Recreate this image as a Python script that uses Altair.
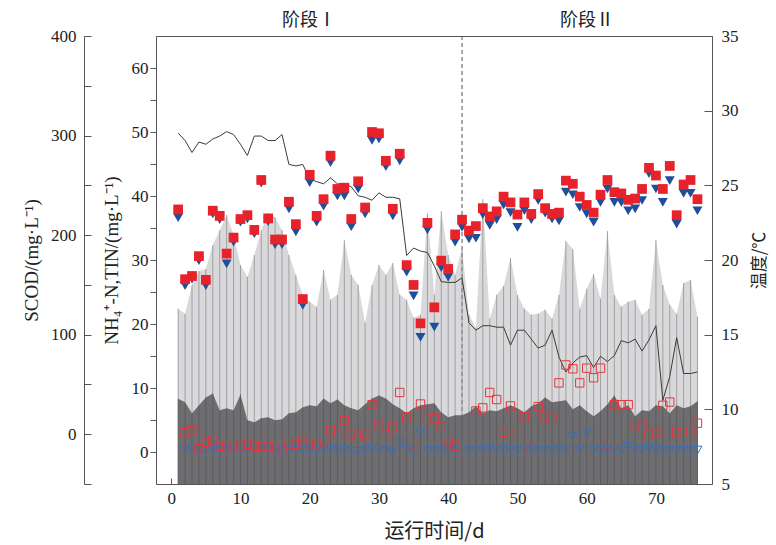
import altair as alt
import pandas as pd

# ---------------- data ----------------
days = list(range(1, 77))

tin_in = [37.9, 27.0, 27.5, 30.6, 26.9, 37.7, 36.9, 31.0, 33.5, 36.4,
          37.0, 34.7, 42.5, 36.5, 33.2, 33.2, 39.1, 35.6, 23.9, 43.3,
          36.9, 39.5, 46.3, 41.1, 41.3, 36.4, 42.3, 38.2, 50.0, 49.8,
          45.5, 38.0, 46.6, 29.2, 26.1, 20.1, 35.8, 22.6, 29.9, 28.6,
          34.0, 36.3, 34.6, 35.3, 38.1, 36.8, 37.6, 39.9, 39.0, 37.1,
          39.0, 37.2, 40.3, 38.1, 37.2, 37.4, 42.4, 41.9, 39.9, 38.6,
          37.4, 40.2, 42.5, 40.6, 40.4, 39.4, 39.6, 41.1, 44.4, 43.2,
          41.1, 44.7, 37.0, 41.8, 42.5, 39.5]

nh4_in = [36.6, 26.0, 27.0, 29.9, 26.0, 37.2, 36.3, 29.4, 32.8, 35.9,
          36.4, 34.1, 42.0, 36.0, 32.4, 32.4, 38.0, 34.4, 22.9, 42.1,
          35.9, 38.4, 45.2, 40.0, 40.0, 35.2, 41.1, 37.2, 48.7, 48.9,
          44.6, 36.9, 45.5, 28.1, 24.4, 17.9, 34.7, 19.5, 28.8, 27.3,
          32.8, 35.1, 33.3, 33.4, 37.1, 35.4, 36.3, 38.6, 37.4, 35.1,
          37.7, 36.3, 39.3, 37.3, 36.4, 36.1, 40.6, 40.2, 38.2, 37.2,
          35.9, 39.0, 41.1, 39.0, 39.0, 37.7, 38.0, 39.3, 43.5, 41.1,
          39.0, 42.4, 35.6, 40.4, 40.4, 37.7]

tin_out = [None, 3.0, 3.3, 0.5, 1.5, 1.9, 0.9, 0.7, 1.0, 1.0,
           1.2, 0.9, 0.9, 0.8, 0.4, 0.4, 1.3, 1.2, 1.7, 1.3,
           1.3, 1.6, 3.3, 2.6, 4.9, 2.8, 2.3, 2.8, 7.4, 4.2,
           2.6, 3.9, 9.3, 5.5, 1.3, 7.5, 5.1, 5.2, 3.9, 1.6,
           0.9, None, None, 6.4, 6.9, 9.3, 8.2, 3.1, 7.2, 2.9,
           5.5, 0.4, 7.1, 5.6, 5.4, 10.8, 13.6, 13.0, 10.8, 13.1,
           11.6, 13.1, 1.3, 7.4, 7.4, 7.4, 4.1, 4.2, 2.6, 3.1,
           7.3, 7.8, 3.0, None, 3.2, 4.5]

nh4_out = [None, 0.4, 0.5, 0.1, 0.2, 0.3, 0.2, 0.3, 0.4, 0.4,
           0.5, 0.4, 0.5, 0.4, 0.2, 0.2, 0.3, 0.2, 0.3, 0.2,
           0.2, 0.3, 0.3, 0.2, 0.3, 0.1, 0.1, 0.2, 0.5, 0.4,
           0.2, 0.0, 1.4, 0.3, 0.1, 3.0, 0.2, 0.2, 0.3, 0.2,
           0.2, None, 0.2, 0.2, 0.3, 0.6, 0.4, 0.2, 0.3, 0.2,
           0.3, 0.2, 0.2, 0.2, 0.2, 0.3, 0.3, 2.4, 0.3, 3.0,
           0.3, 0.2, 0.3, 0.4, 0.2, 0.9, 0.2, 0.3, 0.6, 0.3,
           0.2, 0.2, 0.2, 0.3, 0.2, 0.3]

temp = [28.5, 28.0, 27.2, 27.9, 27.75, 28.1, 28.3, 28.6, 28.4, 27.75,
        27.0, 28.3, 28.3, 28.0, 28.0, 28.4, 26.4, 26.3, 26.4, 25.4,
        25.25, 25.1, 25.5, 25.1, 25.1, 24.9, 24.3, 24.2, 24.0, 24.5,
        24.2, 24.2, 24.1, 20.3, 20.8, 20.6, 20.5, 19.6, 18.55, 18.5,
        18.5, 18.8, 15.8, 15.3, 15.6, 15.6, 15.5, 15.5, 14.3, 15.3,
        15.3, 14.7, 14.1, 14.3, 15.3, 13.5, 12.5, 13.1, 13.5, 13.6,
        12.8, 13.55, 13.2, 13.6, 14.6, 14.45, 14.7, 13.9, 14.65, 15.6,
        10.6, 12.2, 14.8, 12.4, 12.4, 12.5]

scod_in = [126, 121, 150, 164, 166, 190, 205, 220, 200, 170,
           158, 180, 205, 222, 218, 205, 180, 160, 140, 133,
           128, 165, 135, 140, 195, 160, 150, 112, 150, 170,
           160, 172, 140, 135, 117, 120, 222, 140, 224, 180,
           160, 187, 120, 107, 236, 116, 140, 149, 177, 140,
           126, 120, 121, 125, 116, 140, 194, 186, 126, 146,
           161, 136, 204, 140, 128, 133, 135, 120, 126, 195,
           150, 130, 121, 152, 155, 118]

scod_out = [35.7, 32, 21, 29, 37, 41, 24, 26, 24, 40,
            14, 12, 16, 17, 14, 15, 21, 22, 27, 29,
            28, 36, 31, 35, 29, 26, 24, 30, 36, 39,
            36, 30, 26, 21, 26, 29, 30, 31, 22, 17,
            19, 19, 22, 28, 21, 24, 23, 26, 29, 26,
            22, 28, 31, 37, 32, 33, 34, 25, 29, 23,
            18, 23, 30, 39, 26, 29, 18, 24, 23, 29,
            28, 21, 29, 26, 28, 33]

stage_names = ["阶段Ⅰ", "阶段Ⅱ"]
stage_split = 42

x_domain = [-2.2, 78.1]
scod_domain = [-50, 400]
n_domain = [-5, 65]
t_domain = [5, 35]

# ---------------- tables ----------------
df = pd.DataFrame({
    "day": days, "tin_in": tin_in, "nh4_in": nh4_in,
    "tin_out": tin_out, "nh4_out": nh4_out, "temp": temp,
    "scod_in": scod_in, "scod_out": scod_out,
})
split_df = pd.DataFrame({"day": [stage_split]})
stage_df = pd.DataFrame({
    "day": [(x_domain[0] + stage_split) / 2, (stage_split + x_domain[1]) / 2],
    "name": stage_names,
})

W, H = 556, 448
SERIF = "Liberation Serif"
CJK = "Noto Sans CJK SC"
AX = "#555555"

x_scale = alt.Scale(domain=x_domain, nice=False, zero=False)
x_axis = alt.Axis(
    values=list(range(0, 80, 5)),
    labelExpr="datum.value % 10 === 0 ? datum.label : ''",
    orient="bottom", offset=-6, tickSize=6, domain=False,
    labelPadding=6, title="运行时间/d", titleFont=CJK, titleFontSize=20,
    titleFontWeight="normal", titlePadding=15, titleColor="#222",
)
X = alt.X("day:Q", scale=x_scale, axis=x_axis)

scod_scale = alt.Scale(domain=scod_domain, nice=False, zero=False)
n_scale = alt.Scale(domain=n_domain, nice=False, zero=False)
t_scale = alt.Scale(domain=t_domain, nice=False, zero=False)

scod_label_axis = alt.Axis(
    orient="left", offset=72, values=list(range(0, 401, 100)),
    ticks=False, labelPadding=8, domain=True,
    title="SCOD/(mg·L⁻¹)", titleFontSize=19, titlePadding=9,
)
scod_tick_axis = alt.Axis(
    orient="left", offset=65, values=list(range(-50, 401, 50)),
    tickSize=7, labels=False, domain=False, title=None,
)
n_axis = alt.Axis(
    orient="left", offset=0, values=list(range(0, 61, 5)),
    labelExpr="datum.value % 10 === 0 ? datum.label : ''",
    tickSize=6, labelPadding=2, domain=False,
    title="NH₄⁺-N,TIN/(mg·L⁻¹)", titleFontSize=19, titlePadding=10,
)
t_label_axis = alt.Axis(
    orient="right", offset=0, values=list(range(5, 36, 5)),
    ticks=False, labelPadding=9, domain=False,
    title="温度/℃", titleFont=CJK, titleFontSize=17, titleAngle=270,
    titleBaseline="top", titlePadding=13,
)
t_tick_axis = alt.Axis(
    orient="right", offset=-8, values=list(range(5, 36, 5)),
    tickSize=8, labels=False, domain=False, title=None,
)

base = alt.Chart(df)

light_area = base.mark_area(color="#d9d9db", opacity=1).encode(
    x=X, y=alt.Y("scod_in:Q", scale=scod_scale, axis=scod_label_axis),
    y2=alt.datum(-50),
)
split_rule = alt.Chart(split_df).mark_rule(
    color="#555555", strokeWidth=1, strokeDash=[4, 3]
).encode(x=X, y=alt.value(0), y2=alt.value(H))
dark_area = base.mark_area(color="#6e6e70", opacity=1).encode(
    x=X, y=alt.Y("scod_out:Q", scale=scod_scale, axis=None),
    y2=alt.datum(-50),
)
light_drops = base.mark_rule(color="#a0a0a2", strokeWidth=1).encode(
    x=X, y=alt.Y("scod_out:Q", scale=scod_scale, axis=None),
    y2="scod_in:Q",
)
dark_drops = base.mark_rule(color="#5c5c5e", strokeWidth=1).encode(
    x=X, y=alt.Y("scod_out:Q", scale=scod_scale, axis=scod_tick_axis),
    y2=alt.datum(-50),
)
temp_line = base.mark_line(color="#3a3a3a", strokeWidth=1).encode(
    x=X, y=alt.Y("temp:Q", scale=t_scale, axis=t_label_axis),
)
temp_ticks = base.mark_line(opacity=0).encode(
    x=X, y=alt.Y("temp:Q", scale=t_scale, axis=t_tick_axis),
)
nh4_out_pts = base.mark_point(
    shape="triangle-down", filled=False, size=80, color="#3d6db6",
    strokeWidth=1, opacity=1,
).encode(x=X, y=alt.Y("nh4_out:Q", scale=n_scale, axis=n_axis))
tin_out_pts = base.mark_point(
    shape="square", filled=False, size=70, color="#e2363d",
    strokeWidth=1, opacity=1,
).encode(x=X, y=alt.Y("tin_out:Q", scale=n_scale, axis=None))
nh4_in_pts = base.mark_point(
    shape="triangle-down", filled=True, size=100, color="#1f4e9a", opacity=1,
).encode(x=X, y=alt.Y("nh4_in:Q", scale=n_scale, axis=None))
tin_in_pts = base.mark_point(
    shape="square", filled=True, size=95, color="#e8222b", opacity=1,
).encode(x=X, y=alt.Y("tin_in:Q", scale=n_scale, axis=None))
stage_text = alt.Chart(stage_df).mark_text(
    font=CJK, fontSize=18, color="#222222", baseline="middle", align="center"
).encode(x=X, y=alt.value(-15), text="name:N")

chart = alt.layer(
    light_area, split_rule, dark_area, light_drops, dark_drops,
    temp_line, temp_ticks, nh4_out_pts, tin_out_pts, nh4_in_pts,
    tin_in_pts, stage_text,
).resolve_scale(y="independent").properties(
    width=W, height=H,
    autosize=alt.AutoSizeParams(type="none"),
    padding={"left": 156, "top": 36, "right": 64, "bottom": 61},
    background="white",
).configure_view(
    stroke=AX, strokeWidth=1,
).configure_axis(
    grid=False, labelFont=SERIF, labelFontSize=17, labelColor="#222222",
    titleFont=SERIF, titleFontWeight="normal", titleColor="#222222",
    tickColor=AX, domainColor=AX, tickWidth=1, domainWidth=1,
)

chart.save("out.html", embed_options={"renderer": "svg", "actions": False})
